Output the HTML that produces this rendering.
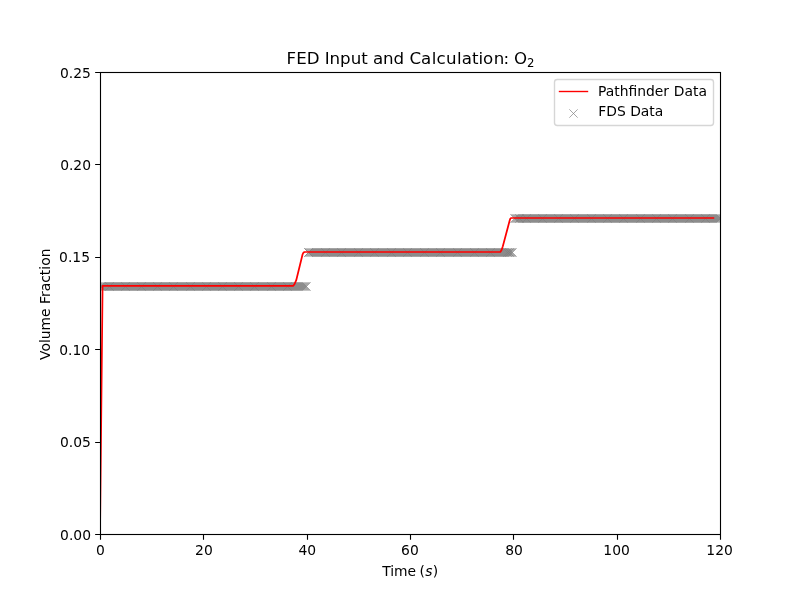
<!DOCTYPE html>
<html lang="en">
<head>
<meta charset="utf-8">
<title>FED Input and Calculation: O2</title>
<style>
html,body{margin:0;padding:0;background:#fff;}
body{width:800px;height:600px;overflow:hidden;}
svg{display:block;}
text{font-family:"DejaVu Sans","Liberation Sans",sans-serif;fill:#000;}
.t10{font-size:13.889px;}
.mk path{fill:none;stroke:#808080;stroke-opacity:1;stroke-width:0.694;}
</style>
</head>
<body>
<svg width="800" height="600" viewBox="0 0 800 600">
<rect x="0" y="0" width="800" height="600" fill="#ffffff"/>
<clipPath id="axclip"><rect x="100" y="72" width="620" height="462"/></clipPath>
<g class="mk" clip-path="url(#axclip)">
<path d="M96.333 290.667l8.333 -8.333m-8.333 0l8.333 8.333"/><path d="M97.333 290.667l8.333 -8.333m-8.333 0l8.333 8.333"/><path d="M98.333 290.667l8.333 -8.333m-8.333 0l8.333 8.333"/><path d="M99.333 290.667l8.333 -8.333m-8.333 0l8.333 8.333"/><path d="M100.333 290.667l8.333 -8.333m-8.333 0l8.333 8.333"/><path d="M101.333 290.667l8.333 -8.333m-8.333 0l8.333 8.333"/>
<path d="M102.333 290.667l8.333 -8.333m-8.333 0l8.333 8.333"/><path d="M103.333 290.667l8.333 -8.333m-8.333 0l8.333 8.333"/><path d="M104.333 290.667l8.333 -8.333m-8.333 0l8.333 8.333"/><path d="M105.333 290.667l8.333 -8.333m-8.333 0l8.333 8.333"/><path d="M106.333 290.667l8.333 -8.333m-8.333 0l8.333 8.333"/><path d="M107.333 290.667l8.333 -8.333m-8.333 0l8.333 8.333"/>
<path d="M108.333 290.667l8.333 -8.333m-8.333 0l8.333 8.333"/><path d="M109.333 290.667l8.333 -8.333m-8.333 0l8.333 8.333"/><path d="M110.333 290.667l8.333 -8.333m-8.333 0l8.333 8.333"/><path d="M111.333 290.667l8.333 -8.333m-8.333 0l8.333 8.333"/><path d="M112.333 290.667l8.333 -8.333m-8.333 0l8.333 8.333"/><path d="M113.333 290.667l8.333 -8.333m-8.333 0l8.333 8.333"/>
<path d="M114.333 290.667l8.333 -8.333m-8.333 0l8.333 8.333"/><path d="M115.333 290.667l8.333 -8.333m-8.333 0l8.333 8.333"/><path d="M116.333 290.667l8.333 -8.333m-8.333 0l8.333 8.333"/><path d="M117.333 290.667l8.333 -8.333m-8.333 0l8.333 8.333"/><path d="M118.333 290.667l8.333 -8.333m-8.333 0l8.333 8.333"/><path d="M119.333 290.667l8.333 -8.333m-8.333 0l8.333 8.333"/>
<path d="M120.333 290.667l8.333 -8.333m-8.333 0l8.333 8.333"/><path d="M121.333 290.667l8.333 -8.333m-8.333 0l8.333 8.333"/><path d="M122.333 290.667l8.333 -8.333m-8.333 0l8.333 8.333"/><path d="M123.333 290.667l8.333 -8.333m-8.333 0l8.333 8.333"/><path d="M124.333 290.667l8.333 -8.333m-8.333 0l8.333 8.333"/><path d="M125.333 290.667l8.333 -8.333m-8.333 0l8.333 8.333"/>
<path d="M126.333 290.667l8.333 -8.333m-8.333 0l8.333 8.333"/><path d="M127.333 290.667l8.333 -8.333m-8.333 0l8.333 8.333"/><path d="M128.333 290.667l8.333 -8.333m-8.333 0l8.333 8.333"/><path d="M129.333 290.667l8.333 -8.333m-8.333 0l8.333 8.333"/><path d="M130.333 290.667l8.333 -8.333m-8.333 0l8.333 8.333"/><path d="M131.333 290.667l8.333 -8.333m-8.333 0l8.333 8.333"/>
<path d="M132.333 290.667l8.333 -8.333m-8.333 0l8.333 8.333"/><path d="M133.333 290.667l8.333 -8.333m-8.333 0l8.333 8.333"/><path d="M134.333 290.667l8.333 -8.333m-8.333 0l8.333 8.333"/><path d="M135.333 290.667l8.333 -8.333m-8.333 0l8.333 8.333"/><path d="M136.333 290.667l8.333 -8.333m-8.333 0l8.333 8.333"/><path d="M137.333 290.667l8.333 -8.333m-8.333 0l8.333 8.333"/>
<path d="M138.333 290.667l8.333 -8.333m-8.333 0l8.333 8.333"/><path d="M139.333 290.667l8.333 -8.333m-8.333 0l8.333 8.333"/><path d="M140.333 290.667l8.333 -8.333m-8.333 0l8.333 8.333"/><path d="M141.333 290.667l8.333 -8.333m-8.333 0l8.333 8.333"/><path d="M142.333 290.667l8.333 -8.333m-8.333 0l8.333 8.333"/><path d="M143.333 290.667l8.333 -8.333m-8.333 0l8.333 8.333"/>
<path d="M144.333 290.667l8.333 -8.333m-8.333 0l8.333 8.333"/><path d="M145.333 290.667l8.333 -8.333m-8.333 0l8.333 8.333"/><path d="M146.333 290.667l8.333 -8.333m-8.333 0l8.333 8.333"/><path d="M147.333 290.667l8.333 -8.333m-8.333 0l8.333 8.333"/><path d="M148.333 290.667l8.333 -8.333m-8.333 0l8.333 8.333"/><path d="M149.333 290.667l8.333 -8.333m-8.333 0l8.333 8.333"/>
<path d="M150.333 290.667l8.333 -8.333m-8.333 0l8.333 8.333"/><path d="M151.333 290.667l8.333 -8.333m-8.333 0l8.333 8.333"/><path d="M152.333 290.667l8.333 -8.333m-8.333 0l8.333 8.333"/><path d="M153.333 290.667l8.333 -8.333m-8.333 0l8.333 8.333"/><path d="M154.333 290.667l8.333 -8.333m-8.333 0l8.333 8.333"/><path d="M155.333 290.667l8.333 -8.333m-8.333 0l8.333 8.333"/>
<path d="M156.333 290.667l8.333 -8.333m-8.333 0l8.333 8.333"/><path d="M157.333 290.667l8.333 -8.333m-8.333 0l8.333 8.333"/><path d="M158.333 290.667l8.333 -8.333m-8.333 0l8.333 8.333"/><path d="M159.333 290.667l8.333 -8.333m-8.333 0l8.333 8.333"/><path d="M160.333 290.667l8.333 -8.333m-8.333 0l8.333 8.333"/><path d="M161.333 290.667l8.333 -8.333m-8.333 0l8.333 8.333"/>
<path d="M162.333 290.667l8.333 -8.333m-8.333 0l8.333 8.333"/><path d="M163.333 290.667l8.333 -8.333m-8.333 0l8.333 8.333"/><path d="M164.333 290.667l8.333 -8.333m-8.333 0l8.333 8.333"/><path d="M165.333 290.667l8.333 -8.333m-8.333 0l8.333 8.333"/><path d="M166.333 290.667l8.333 -8.333m-8.333 0l8.333 8.333"/><path d="M167.333 290.667l8.333 -8.333m-8.333 0l8.333 8.333"/>
<path d="M168.333 290.667l8.333 -8.333m-8.333 0l8.333 8.333"/><path d="M169.333 290.667l8.333 -8.333m-8.333 0l8.333 8.333"/><path d="M170.333 290.667l8.333 -8.333m-8.333 0l8.333 8.333"/><path d="M171.333 290.667l8.333 -8.333m-8.333 0l8.333 8.333"/><path d="M172.333 290.667l8.333 -8.333m-8.333 0l8.333 8.333"/><path d="M173.333 290.667l8.333 -8.333m-8.333 0l8.333 8.333"/>
<path d="M174.333 290.667l8.333 -8.333m-8.333 0l8.333 8.333"/><path d="M175.333 290.667l8.333 -8.333m-8.333 0l8.333 8.333"/><path d="M176.333 290.667l8.333 -8.333m-8.333 0l8.333 8.333"/><path d="M177.333 290.667l8.333 -8.333m-8.333 0l8.333 8.333"/><path d="M178.333 290.667l8.333 -8.333m-8.333 0l8.333 8.333"/><path d="M179.333 290.667l8.333 -8.333m-8.333 0l8.333 8.333"/>
<path d="M180.333 290.667l8.333 -8.333m-8.333 0l8.333 8.333"/><path d="M181.333 290.667l8.333 -8.333m-8.333 0l8.333 8.333"/><path d="M182.333 290.667l8.333 -8.333m-8.333 0l8.333 8.333"/><path d="M183.333 290.667l8.333 -8.333m-8.333 0l8.333 8.333"/><path d="M184.333 290.667l8.333 -8.333m-8.333 0l8.333 8.333"/><path d="M185.333 290.667l8.333 -8.333m-8.333 0l8.333 8.333"/>
<path d="M186.333 290.667l8.333 -8.333m-8.333 0l8.333 8.333"/><path d="M187.333 290.667l8.333 -8.333m-8.333 0l8.333 8.333"/><path d="M188.333 290.667l8.333 -8.333m-8.333 0l8.333 8.333"/><path d="M189.333 290.667l8.333 -8.333m-8.333 0l8.333 8.333"/><path d="M190.333 290.667l8.333 -8.333m-8.333 0l8.333 8.333"/><path d="M191.333 290.667l8.333 -8.333m-8.333 0l8.333 8.333"/>
<path d="M192.333 290.667l8.333 -8.333m-8.333 0l8.333 8.333"/><path d="M193.333 290.667l8.333 -8.333m-8.333 0l8.333 8.333"/><path d="M194.333 290.667l8.333 -8.333m-8.333 0l8.333 8.333"/><path d="M195.333 290.667l8.333 -8.333m-8.333 0l8.333 8.333"/><path d="M196.333 290.667l8.333 -8.333m-8.333 0l8.333 8.333"/><path d="M197.333 290.667l8.333 -8.333m-8.333 0l8.333 8.333"/>
<path d="M198.333 290.667l8.333 -8.333m-8.333 0l8.333 8.333"/><path d="M199.333 290.667l8.333 -8.333m-8.333 0l8.333 8.333"/><path d="M200.333 290.667l8.333 -8.333m-8.333 0l8.333 8.333"/><path d="M201.333 290.667l8.333 -8.333m-8.333 0l8.333 8.333"/><path d="M202.333 290.667l8.333 -8.333m-8.333 0l8.333 8.333"/><path d="M203.333 290.667l8.333 -8.333m-8.333 0l8.333 8.333"/>
<path d="M204.333 290.667l8.333 -8.333m-8.333 0l8.333 8.333"/><path d="M205.333 290.667l8.333 -8.333m-8.333 0l8.333 8.333"/><path d="M206.333 290.667l8.333 -8.333m-8.333 0l8.333 8.333"/><path d="M207.333 290.667l8.333 -8.333m-8.333 0l8.333 8.333"/><path d="M208.333 290.667l8.333 -8.333m-8.333 0l8.333 8.333"/><path d="M209.333 290.667l8.333 -8.333m-8.333 0l8.333 8.333"/>
<path d="M210.333 290.667l8.333 -8.333m-8.333 0l8.333 8.333"/><path d="M211.333 290.667l8.333 -8.333m-8.333 0l8.333 8.333"/><path d="M212.333 290.667l8.333 -8.333m-8.333 0l8.333 8.333"/><path d="M213.333 290.667l8.333 -8.333m-8.333 0l8.333 8.333"/><path d="M214.333 290.667l8.333 -8.333m-8.333 0l8.333 8.333"/><path d="M215.333 290.667l8.333 -8.333m-8.333 0l8.333 8.333"/>
<path d="M216.333 290.667l8.333 -8.333m-8.333 0l8.333 8.333"/><path d="M217.333 290.667l8.333 -8.333m-8.333 0l8.333 8.333"/><path d="M218.333 290.667l8.333 -8.333m-8.333 0l8.333 8.333"/><path d="M219.333 290.667l8.333 -8.333m-8.333 0l8.333 8.333"/><path d="M220.333 290.667l8.333 -8.333m-8.333 0l8.333 8.333"/><path d="M221.333 290.667l8.333 -8.333m-8.333 0l8.333 8.333"/>
<path d="M222.333 290.667l8.333 -8.333m-8.333 0l8.333 8.333"/><path d="M223.333 290.667l8.333 -8.333m-8.333 0l8.333 8.333"/><path d="M224.333 290.667l8.333 -8.333m-8.333 0l8.333 8.333"/><path d="M225.333 290.667l8.333 -8.333m-8.333 0l8.333 8.333"/><path d="M226.333 290.667l8.333 -8.333m-8.333 0l8.333 8.333"/><path d="M227.333 290.667l8.333 -8.333m-8.333 0l8.333 8.333"/>
<path d="M228.333 290.667l8.333 -8.333m-8.333 0l8.333 8.333"/><path d="M229.333 290.667l8.333 -8.333m-8.333 0l8.333 8.333"/><path d="M230.333 290.667l8.333 -8.333m-8.333 0l8.333 8.333"/><path d="M231.333 290.667l8.333 -8.333m-8.333 0l8.333 8.333"/><path d="M232.333 290.667l8.333 -8.333m-8.333 0l8.333 8.333"/><path d="M233.333 290.667l8.333 -8.333m-8.333 0l8.333 8.333"/>
<path d="M234.333 290.667l8.333 -8.333m-8.333 0l8.333 8.333"/><path d="M235.333 290.667l8.333 -8.333m-8.333 0l8.333 8.333"/><path d="M236.333 290.667l8.333 -8.333m-8.333 0l8.333 8.333"/><path d="M237.333 290.667l8.333 -8.333m-8.333 0l8.333 8.333"/><path d="M238.333 290.667l8.333 -8.333m-8.333 0l8.333 8.333"/><path d="M239.333 290.667l8.333 -8.333m-8.333 0l8.333 8.333"/>
<path d="M240.333 290.667l8.333 -8.333m-8.333 0l8.333 8.333"/><path d="M241.333 290.667l8.333 -8.333m-8.333 0l8.333 8.333"/><path d="M242.333 290.667l8.333 -8.333m-8.333 0l8.333 8.333"/><path d="M243.333 290.667l8.333 -8.333m-8.333 0l8.333 8.333"/><path d="M244.333 290.667l8.333 -8.333m-8.333 0l8.333 8.333"/><path d="M245.333 290.667l8.333 -8.333m-8.333 0l8.333 8.333"/>
<path d="M246.333 290.667l8.333 -8.333m-8.333 0l8.333 8.333"/><path d="M247.333 290.667l8.333 -8.333m-8.333 0l8.333 8.333"/><path d="M248.333 290.667l8.333 -8.333m-8.333 0l8.333 8.333"/><path d="M249.333 290.667l8.333 -8.333m-8.333 0l8.333 8.333"/><path d="M250.333 290.667l8.333 -8.333m-8.333 0l8.333 8.333"/><path d="M251.333 290.667l8.333 -8.333m-8.333 0l8.333 8.333"/>
<path d="M252.333 290.667l8.333 -8.333m-8.333 0l8.333 8.333"/><path d="M253.333 290.667l8.333 -8.333m-8.333 0l8.333 8.333"/><path d="M254.333 290.667l8.333 -8.333m-8.333 0l8.333 8.333"/><path d="M255.333 290.667l8.333 -8.333m-8.333 0l8.333 8.333"/><path d="M256.333 290.667l8.333 -8.333m-8.333 0l8.333 8.333"/><path d="M257.333 290.667l8.333 -8.333m-8.333 0l8.333 8.333"/>
<path d="M258.333 290.667l8.333 -8.333m-8.333 0l8.333 8.333"/><path d="M259.333 290.667l8.333 -8.333m-8.333 0l8.333 8.333"/><path d="M260.333 290.667l8.333 -8.333m-8.333 0l8.333 8.333"/><path d="M261.333 290.667l8.333 -8.333m-8.333 0l8.333 8.333"/><path d="M262.333 290.667l8.333 -8.333m-8.333 0l8.333 8.333"/><path d="M263.333 290.667l8.333 -8.333m-8.333 0l8.333 8.333"/>
<path d="M264.333 290.667l8.333 -8.333m-8.333 0l8.333 8.333"/><path d="M265.333 290.667l8.333 -8.333m-8.333 0l8.333 8.333"/><path d="M266.333 290.667l8.333 -8.333m-8.333 0l8.333 8.333"/><path d="M267.333 290.667l8.333 -8.333m-8.333 0l8.333 8.333"/><path d="M268.333 290.667l8.333 -8.333m-8.333 0l8.333 8.333"/><path d="M269.333 290.667l8.333 -8.333m-8.333 0l8.333 8.333"/>
<path d="M270.333 290.667l8.333 -8.333m-8.333 0l8.333 8.333"/><path d="M271.333 290.667l8.333 -8.333m-8.333 0l8.333 8.333"/><path d="M272.333 290.667l8.333 -8.333m-8.333 0l8.333 8.333"/><path d="M273.333 290.667l8.333 -8.333m-8.333 0l8.333 8.333"/><path d="M274.333 290.667l8.333 -8.333m-8.333 0l8.333 8.333"/><path d="M275.333 290.667l8.333 -8.333m-8.333 0l8.333 8.333"/>
<path d="M276.333 290.667l8.333 -8.333m-8.333 0l8.333 8.333"/><path d="M277.333 290.667l8.333 -8.333m-8.333 0l8.333 8.333"/><path d="M278.333 290.667l8.333 -8.333m-8.333 0l8.333 8.333"/><path d="M279.333 290.667l8.333 -8.333m-8.333 0l8.333 8.333"/><path d="M280.333 290.667l8.333 -8.333m-8.333 0l8.333 8.333"/><path d="M281.333 290.667l8.333 -8.333m-8.333 0l8.333 8.333"/>
<path d="M282.333 290.667l8.333 -8.333m-8.333 0l8.333 8.333"/><path d="M283.333 290.667l8.333 -8.333m-8.333 0l8.333 8.333"/><path d="M284.333 290.667l8.333 -8.333m-8.333 0l8.333 8.333"/><path d="M285.333 290.667l8.333 -8.333m-8.333 0l8.333 8.333"/><path d="M286.333 290.667l8.333 -8.333m-8.333 0l8.333 8.333"/><path d="M287.333 290.667l8.333 -8.333m-8.333 0l8.333 8.333"/>
<path d="M288.333 290.667l8.333 -8.333m-8.333 0l8.333 8.333"/><path d="M289.333 290.667l8.333 -8.333m-8.333 0l8.333 8.333"/><path d="M290.333 290.667l8.333 -8.333m-8.333 0l8.333 8.333"/><path d="M291.333 290.667l8.333 -8.333m-8.333 0l8.333 8.333"/><path d="M292.333 290.667l8.333 -8.333m-8.333 0l8.333 8.333"/><path d="M293.333 290.667l8.333 -8.333m-8.333 0l8.333 8.333"/>
<path d="M294.333 290.667l8.333 -8.333m-8.333 0l8.333 8.333"/><path d="M295.333 290.667l8.333 -8.333m-8.333 0l8.333 8.333"/><path d="M296.333 290.667l8.333 -8.333m-8.333 0l8.333 8.333"/><path d="M297.333 290.667l8.333 -8.333m-8.333 0l8.333 8.333"/><path d="M298.333 290.667l8.333 -8.333m-8.333 0l8.333 8.333"/><path d="M299.333 290.667l8.333 -8.333m-8.333 0l8.333 8.333"/>
<path d="M300.333 290.667l8.333 -8.333m-8.333 0l8.333 8.333"/><path d="M301.333 290.667l8.333 -8.333m-8.333 0l8.333 8.333"/><path d="M302.333 290.667l8.333 -8.333m-8.333 0l8.333 8.333"/><path d="M105.333 290.667l8.333 -8.333m-8.333 0l8.333 8.333"/><path d="M121.333 290.667l8.333 -8.333m-8.333 0l8.333 8.333"/><path d="M137.333 290.667l8.333 -8.333m-8.333 0l8.333 8.333"/>
<path d="M153.333 290.667l8.333 -8.333m-8.333 0l8.333 8.333"/><path d="M169.333 290.667l8.333 -8.333m-8.333 0l8.333 8.333"/><path d="M186.333 290.667l8.333 -8.333m-8.333 0l8.333 8.333"/><path d="M202.333 290.667l8.333 -8.333m-8.333 0l8.333 8.333"/><path d="M218.333 290.667l8.333 -8.333m-8.333 0l8.333 8.333"/><path d="M234.333 290.667l8.333 -8.333m-8.333 0l8.333 8.333"/>
<path d="M250.333 290.667l8.333 -8.333m-8.333 0l8.333 8.333"/><path d="M267.333 290.667l8.333 -8.333m-8.333 0l8.333 8.333"/><path d="M283.333 290.667l8.333 -8.333m-8.333 0l8.333 8.333"/><path d="M304.333 256.667l8.333 -8.333m-8.333 0l8.333 8.333"/><path d="M305.333 256.667l8.333 -8.333m-8.333 0l8.333 8.333"/><path d="M306.333 256.667l8.333 -8.333m-8.333 0l8.333 8.333"/>
<path d="M307.333 256.667l8.333 -8.333m-8.333 0l8.333 8.333"/><path d="M308.333 256.667l8.333 -8.333m-8.333 0l8.333 8.333"/><path d="M309.333 256.667l8.333 -8.333m-8.333 0l8.333 8.333"/><path d="M310.333 256.667l8.333 -8.333m-8.333 0l8.333 8.333"/><path d="M311.333 256.667l8.333 -8.333m-8.333 0l8.333 8.333"/><path d="M312.333 256.667l8.333 -8.333m-8.333 0l8.333 8.333"/>
<path d="M313.333 256.667l8.333 -8.333m-8.333 0l8.333 8.333"/><path d="M314.333 256.667l8.333 -8.333m-8.333 0l8.333 8.333"/><path d="M315.333 256.667l8.333 -8.333m-8.333 0l8.333 8.333"/><path d="M316.333 256.667l8.333 -8.333m-8.333 0l8.333 8.333"/><path d="M317.333 256.667l8.333 -8.333m-8.333 0l8.333 8.333"/><path d="M318.333 256.667l8.333 -8.333m-8.333 0l8.333 8.333"/>
<path d="M319.333 256.667l8.333 -8.333m-8.333 0l8.333 8.333"/><path d="M320.333 256.667l8.333 -8.333m-8.333 0l8.333 8.333"/><path d="M321.333 256.667l8.333 -8.333m-8.333 0l8.333 8.333"/><path d="M322.333 256.667l8.333 -8.333m-8.333 0l8.333 8.333"/><path d="M323.333 256.667l8.333 -8.333m-8.333 0l8.333 8.333"/><path d="M324.333 256.667l8.333 -8.333m-8.333 0l8.333 8.333"/>
<path d="M325.333 256.667l8.333 -8.333m-8.333 0l8.333 8.333"/><path d="M326.333 256.667l8.333 -8.333m-8.333 0l8.333 8.333"/><path d="M327.333 256.667l8.333 -8.333m-8.333 0l8.333 8.333"/><path d="M328.333 256.667l8.333 -8.333m-8.333 0l8.333 8.333"/><path d="M329.333 256.667l8.333 -8.333m-8.333 0l8.333 8.333"/><path d="M330.333 256.667l8.333 -8.333m-8.333 0l8.333 8.333"/>
<path d="M331.333 256.667l8.333 -8.333m-8.333 0l8.333 8.333"/><path d="M332.333 256.667l8.333 -8.333m-8.333 0l8.333 8.333"/><path d="M333.333 256.667l8.333 -8.333m-8.333 0l8.333 8.333"/><path d="M334.333 256.667l8.333 -8.333m-8.333 0l8.333 8.333"/><path d="M335.333 256.667l8.333 -8.333m-8.333 0l8.333 8.333"/><path d="M336.333 256.667l8.333 -8.333m-8.333 0l8.333 8.333"/>
<path d="M337.333 256.667l8.333 -8.333m-8.333 0l8.333 8.333"/><path d="M338.333 256.667l8.333 -8.333m-8.333 0l8.333 8.333"/><path d="M339.333 256.667l8.333 -8.333m-8.333 0l8.333 8.333"/><path d="M340.333 256.667l8.333 -8.333m-8.333 0l8.333 8.333"/><path d="M341.333 256.667l8.333 -8.333m-8.333 0l8.333 8.333"/><path d="M342.333 256.667l8.333 -8.333m-8.333 0l8.333 8.333"/>
<path d="M343.333 256.667l8.333 -8.333m-8.333 0l8.333 8.333"/><path d="M344.333 256.667l8.333 -8.333m-8.333 0l8.333 8.333"/><path d="M345.333 256.667l8.333 -8.333m-8.333 0l8.333 8.333"/><path d="M346.333 256.667l8.333 -8.333m-8.333 0l8.333 8.333"/><path d="M347.333 256.667l8.333 -8.333m-8.333 0l8.333 8.333"/><path d="M348.333 256.667l8.333 -8.333m-8.333 0l8.333 8.333"/>
<path d="M349.333 256.667l8.333 -8.333m-8.333 0l8.333 8.333"/><path d="M350.333 256.667l8.333 -8.333m-8.333 0l8.333 8.333"/><path d="M351.333 256.667l8.333 -8.333m-8.333 0l8.333 8.333"/><path d="M352.333 256.667l8.333 -8.333m-8.333 0l8.333 8.333"/><path d="M353.333 256.667l8.333 -8.333m-8.333 0l8.333 8.333"/><path d="M354.333 256.667l8.333 -8.333m-8.333 0l8.333 8.333"/>
<path d="M355.333 256.667l8.333 -8.333m-8.333 0l8.333 8.333"/><path d="M356.333 256.667l8.333 -8.333m-8.333 0l8.333 8.333"/><path d="M357.333 256.667l8.333 -8.333m-8.333 0l8.333 8.333"/><path d="M358.333 256.667l8.333 -8.333m-8.333 0l8.333 8.333"/><path d="M359.333 256.667l8.333 -8.333m-8.333 0l8.333 8.333"/><path d="M360.333 256.667l8.333 -8.333m-8.333 0l8.333 8.333"/>
<path d="M361.333 256.667l8.333 -8.333m-8.333 0l8.333 8.333"/><path d="M362.333 256.667l8.333 -8.333m-8.333 0l8.333 8.333"/><path d="M363.333 256.667l8.333 -8.333m-8.333 0l8.333 8.333"/><path d="M364.333 256.667l8.333 -8.333m-8.333 0l8.333 8.333"/><path d="M365.333 256.667l8.333 -8.333m-8.333 0l8.333 8.333"/><path d="M366.333 256.667l8.333 -8.333m-8.333 0l8.333 8.333"/>
<path d="M367.333 256.667l8.333 -8.333m-8.333 0l8.333 8.333"/><path d="M368.333 256.667l8.333 -8.333m-8.333 0l8.333 8.333"/><path d="M369.333 256.667l8.333 -8.333m-8.333 0l8.333 8.333"/><path d="M370.333 256.667l8.333 -8.333m-8.333 0l8.333 8.333"/><path d="M371.333 256.667l8.333 -8.333m-8.333 0l8.333 8.333"/><path d="M372.333 256.667l8.333 -8.333m-8.333 0l8.333 8.333"/>
<path d="M373.333 256.667l8.333 -8.333m-8.333 0l8.333 8.333"/><path d="M374.333 256.667l8.333 -8.333m-8.333 0l8.333 8.333"/><path d="M375.333 256.667l8.333 -8.333m-8.333 0l8.333 8.333"/><path d="M376.333 256.667l8.333 -8.333m-8.333 0l8.333 8.333"/><path d="M377.333 256.667l8.333 -8.333m-8.333 0l8.333 8.333"/><path d="M378.333 256.667l8.333 -8.333m-8.333 0l8.333 8.333"/>
<path d="M379.333 256.667l8.333 -8.333m-8.333 0l8.333 8.333"/><path d="M380.333 256.667l8.333 -8.333m-8.333 0l8.333 8.333"/><path d="M381.333 256.667l8.333 -8.333m-8.333 0l8.333 8.333"/><path d="M382.333 256.667l8.333 -8.333m-8.333 0l8.333 8.333"/><path d="M383.333 256.667l8.333 -8.333m-8.333 0l8.333 8.333"/><path d="M384.333 256.667l8.333 -8.333m-8.333 0l8.333 8.333"/>
<path d="M385.333 256.667l8.333 -8.333m-8.333 0l8.333 8.333"/><path d="M386.333 256.667l8.333 -8.333m-8.333 0l8.333 8.333"/><path d="M387.333 256.667l8.333 -8.333m-8.333 0l8.333 8.333"/><path d="M388.333 256.667l8.333 -8.333m-8.333 0l8.333 8.333"/><path d="M389.333 256.667l8.333 -8.333m-8.333 0l8.333 8.333"/><path d="M390.333 256.667l8.333 -8.333m-8.333 0l8.333 8.333"/>
<path d="M391.333 256.667l8.333 -8.333m-8.333 0l8.333 8.333"/><path d="M392.333 256.667l8.333 -8.333m-8.333 0l8.333 8.333"/><path d="M393.333 256.667l8.333 -8.333m-8.333 0l8.333 8.333"/><path d="M394.333 256.667l8.333 -8.333m-8.333 0l8.333 8.333"/><path d="M395.333 256.667l8.333 -8.333m-8.333 0l8.333 8.333"/><path d="M396.333 256.667l8.333 -8.333m-8.333 0l8.333 8.333"/>
<path d="M397.333 256.667l8.333 -8.333m-8.333 0l8.333 8.333"/><path d="M398.333 256.667l8.333 -8.333m-8.333 0l8.333 8.333"/><path d="M399.333 256.667l8.333 -8.333m-8.333 0l8.333 8.333"/><path d="M400.333 256.667l8.333 -8.333m-8.333 0l8.333 8.333"/><path d="M401.333 256.667l8.333 -8.333m-8.333 0l8.333 8.333"/><path d="M402.333 256.667l8.333 -8.333m-8.333 0l8.333 8.333"/>
<path d="M403.333 256.667l8.333 -8.333m-8.333 0l8.333 8.333"/><path d="M404.333 256.667l8.333 -8.333m-8.333 0l8.333 8.333"/><path d="M405.333 256.667l8.333 -8.333m-8.333 0l8.333 8.333"/><path d="M406.333 256.667l8.333 -8.333m-8.333 0l8.333 8.333"/><path d="M407.333 256.667l8.333 -8.333m-8.333 0l8.333 8.333"/><path d="M408.333 256.667l8.333 -8.333m-8.333 0l8.333 8.333"/>
<path d="M409.333 256.667l8.333 -8.333m-8.333 0l8.333 8.333"/><path d="M410.333 256.667l8.333 -8.333m-8.333 0l8.333 8.333"/><path d="M411.333 256.667l8.333 -8.333m-8.333 0l8.333 8.333"/><path d="M412.333 256.667l8.333 -8.333m-8.333 0l8.333 8.333"/><path d="M413.333 256.667l8.333 -8.333m-8.333 0l8.333 8.333"/><path d="M414.333 256.667l8.333 -8.333m-8.333 0l8.333 8.333"/>
<path d="M415.333 256.667l8.333 -8.333m-8.333 0l8.333 8.333"/><path d="M416.333 256.667l8.333 -8.333m-8.333 0l8.333 8.333"/><path d="M417.333 256.667l8.333 -8.333m-8.333 0l8.333 8.333"/><path d="M418.333 256.667l8.333 -8.333m-8.333 0l8.333 8.333"/><path d="M419.333 256.667l8.333 -8.333m-8.333 0l8.333 8.333"/><path d="M420.333 256.667l8.333 -8.333m-8.333 0l8.333 8.333"/>
<path d="M421.333 256.667l8.333 -8.333m-8.333 0l8.333 8.333"/><path d="M422.333 256.667l8.333 -8.333m-8.333 0l8.333 8.333"/><path d="M423.333 256.667l8.333 -8.333m-8.333 0l8.333 8.333"/><path d="M424.333 256.667l8.333 -8.333m-8.333 0l8.333 8.333"/><path d="M425.333 256.667l8.333 -8.333m-8.333 0l8.333 8.333"/><path d="M426.333 256.667l8.333 -8.333m-8.333 0l8.333 8.333"/>
<path d="M427.333 256.667l8.333 -8.333m-8.333 0l8.333 8.333"/><path d="M428.333 256.667l8.333 -8.333m-8.333 0l8.333 8.333"/><path d="M429.333 256.667l8.333 -8.333m-8.333 0l8.333 8.333"/><path d="M430.333 256.667l8.333 -8.333m-8.333 0l8.333 8.333"/><path d="M431.333 256.667l8.333 -8.333m-8.333 0l8.333 8.333"/><path d="M432.333 256.667l8.333 -8.333m-8.333 0l8.333 8.333"/>
<path d="M433.333 256.667l8.333 -8.333m-8.333 0l8.333 8.333"/><path d="M434.333 256.667l8.333 -8.333m-8.333 0l8.333 8.333"/><path d="M435.333 256.667l8.333 -8.333m-8.333 0l8.333 8.333"/><path d="M436.333 256.667l8.333 -8.333m-8.333 0l8.333 8.333"/><path d="M437.333 256.667l8.333 -8.333m-8.333 0l8.333 8.333"/><path d="M438.333 256.667l8.333 -8.333m-8.333 0l8.333 8.333"/>
<path d="M439.333 256.667l8.333 -8.333m-8.333 0l8.333 8.333"/><path d="M440.333 256.667l8.333 -8.333m-8.333 0l8.333 8.333"/><path d="M441.333 256.667l8.333 -8.333m-8.333 0l8.333 8.333"/><path d="M442.333 256.667l8.333 -8.333m-8.333 0l8.333 8.333"/><path d="M443.333 256.667l8.333 -8.333m-8.333 0l8.333 8.333"/><path d="M444.333 256.667l8.333 -8.333m-8.333 0l8.333 8.333"/>
<path d="M445.333 256.667l8.333 -8.333m-8.333 0l8.333 8.333"/><path d="M446.333 256.667l8.333 -8.333m-8.333 0l8.333 8.333"/><path d="M447.333 256.667l8.333 -8.333m-8.333 0l8.333 8.333"/><path d="M448.333 256.667l8.333 -8.333m-8.333 0l8.333 8.333"/><path d="M449.333 256.667l8.333 -8.333m-8.333 0l8.333 8.333"/><path d="M450.333 256.667l8.333 -8.333m-8.333 0l8.333 8.333"/>
<path d="M451.333 256.667l8.333 -8.333m-8.333 0l8.333 8.333"/><path d="M452.333 256.667l8.333 -8.333m-8.333 0l8.333 8.333"/><path d="M453.333 256.667l8.333 -8.333m-8.333 0l8.333 8.333"/><path d="M454.333 256.667l8.333 -8.333m-8.333 0l8.333 8.333"/><path d="M455.333 256.667l8.333 -8.333m-8.333 0l8.333 8.333"/><path d="M456.333 256.667l8.333 -8.333m-8.333 0l8.333 8.333"/>
<path d="M457.333 256.667l8.333 -8.333m-8.333 0l8.333 8.333"/><path d="M458.333 256.667l8.333 -8.333m-8.333 0l8.333 8.333"/><path d="M459.333 256.667l8.333 -8.333m-8.333 0l8.333 8.333"/><path d="M460.333 256.667l8.333 -8.333m-8.333 0l8.333 8.333"/><path d="M461.333 256.667l8.333 -8.333m-8.333 0l8.333 8.333"/><path d="M462.333 256.667l8.333 -8.333m-8.333 0l8.333 8.333"/>
<path d="M463.333 256.667l8.333 -8.333m-8.333 0l8.333 8.333"/><path d="M464.333 256.667l8.333 -8.333m-8.333 0l8.333 8.333"/><path d="M465.333 256.667l8.333 -8.333m-8.333 0l8.333 8.333"/><path d="M466.333 256.667l8.333 -8.333m-8.333 0l8.333 8.333"/><path d="M467.333 256.667l8.333 -8.333m-8.333 0l8.333 8.333"/><path d="M468.333 256.667l8.333 -8.333m-8.333 0l8.333 8.333"/>
<path d="M469.333 256.667l8.333 -8.333m-8.333 0l8.333 8.333"/><path d="M470.333 256.667l8.333 -8.333m-8.333 0l8.333 8.333"/><path d="M471.333 256.667l8.333 -8.333m-8.333 0l8.333 8.333"/><path d="M472.333 256.667l8.333 -8.333m-8.333 0l8.333 8.333"/><path d="M473.333 256.667l8.333 -8.333m-8.333 0l8.333 8.333"/><path d="M474.333 256.667l8.333 -8.333m-8.333 0l8.333 8.333"/>
<path d="M475.333 256.667l8.333 -8.333m-8.333 0l8.333 8.333"/><path d="M476.333 256.667l8.333 -8.333m-8.333 0l8.333 8.333"/><path d="M477.333 256.667l8.333 -8.333m-8.333 0l8.333 8.333"/><path d="M478.333 256.667l8.333 -8.333m-8.333 0l8.333 8.333"/><path d="M479.333 256.667l8.333 -8.333m-8.333 0l8.333 8.333"/><path d="M480.333 256.667l8.333 -8.333m-8.333 0l8.333 8.333"/>
<path d="M481.333 256.667l8.333 -8.333m-8.333 0l8.333 8.333"/><path d="M482.333 256.667l8.333 -8.333m-8.333 0l8.333 8.333"/><path d="M483.333 256.667l8.333 -8.333m-8.333 0l8.333 8.333"/><path d="M484.333 256.667l8.333 -8.333m-8.333 0l8.333 8.333"/><path d="M485.333 256.667l8.333 -8.333m-8.333 0l8.333 8.333"/><path d="M486.333 256.667l8.333 -8.333m-8.333 0l8.333 8.333"/>
<path d="M487.333 256.667l8.333 -8.333m-8.333 0l8.333 8.333"/><path d="M488.333 256.667l8.333 -8.333m-8.333 0l8.333 8.333"/><path d="M489.333 256.667l8.333 -8.333m-8.333 0l8.333 8.333"/><path d="M490.333 256.667l8.333 -8.333m-8.333 0l8.333 8.333"/><path d="M491.333 256.667l8.333 -8.333m-8.333 0l8.333 8.333"/><path d="M492.333 256.667l8.333 -8.333m-8.333 0l8.333 8.333"/>
<path d="M493.333 256.667l8.333 -8.333m-8.333 0l8.333 8.333"/><path d="M494.333 256.667l8.333 -8.333m-8.333 0l8.333 8.333"/><path d="M495.333 256.667l8.333 -8.333m-8.333 0l8.333 8.333"/><path d="M496.333 256.667l8.333 -8.333m-8.333 0l8.333 8.333"/><path d="M497.333 256.667l8.333 -8.333m-8.333 0l8.333 8.333"/><path d="M498.333 256.667l8.333 -8.333m-8.333 0l8.333 8.333"/>
<path d="M499.333 256.667l8.333 -8.333m-8.333 0l8.333 8.333"/><path d="M500.333 256.667l8.333 -8.333m-8.333 0l8.333 8.333"/><path d="M501.333 256.667l8.333 -8.333m-8.333 0l8.333 8.333"/><path d="M502.333 256.667l8.333 -8.333m-8.333 0l8.333 8.333"/><path d="M503.333 256.667l8.333 -8.333m-8.333 0l8.333 8.333"/><path d="M504.333 256.667l8.333 -8.333m-8.333 0l8.333 8.333"/>
<path d="M505.333 256.667l8.333 -8.333m-8.333 0l8.333 8.333"/><path d="M506.333 256.667l8.333 -8.333m-8.333 0l8.333 8.333"/><path d="M507.333 256.667l8.333 -8.333m-8.333 0l8.333 8.333"/><path d="M508.333 256.667l8.333 -8.333m-8.333 0l8.333 8.333"/><path d="M304.333 256.667l8.333 -8.333m-8.333 0l8.333 8.333"/><path d="M321.333 256.667l8.333 -8.333m-8.333 0l8.333 8.333"/>
<path d="M337.333 256.667l8.333 -8.333m-8.333 0l8.333 8.333"/><path d="M354.333 256.667l8.333 -8.333m-8.333 0l8.333 8.333"/><path d="M370.333 256.667l8.333 -8.333m-8.333 0l8.333 8.333"/><path d="M387.333 256.667l8.333 -8.333m-8.333 0l8.333 8.333"/><path d="M403.333 256.667l8.333 -8.333m-8.333 0l8.333 8.333"/><path d="M420.333 256.667l8.333 -8.333m-8.333 0l8.333 8.333"/>
<path d="M436.333 256.667l8.333 -8.333m-8.333 0l8.333 8.333"/><path d="M453.333 256.667l8.333 -8.333m-8.333 0l8.333 8.333"/><path d="M470.333 256.667l8.333 -8.333m-8.333 0l8.333 8.333"/><path d="M486.333 256.667l8.333 -8.333m-8.333 0l8.333 8.333"/><path d="M503.333 256.667l8.333 -8.333m-8.333 0l8.333 8.333"/><path d="M505.333 256.667l8.333 -8.333m-8.333 0l8.333 8.333"/>
<path d="M510.333 222.667l8.333 -8.333m-8.333 0l8.333 8.333"/><path d="M511.333 222.667l8.333 -8.333m-8.333 0l8.333 8.333"/><path d="M512.333 222.667l8.333 -8.333m-8.333 0l8.333 8.333"/><path d="M513.333 222.667l8.333 -8.333m-8.333 0l8.333 8.333"/><path d="M514.333 222.667l8.333 -8.333m-8.333 0l8.333 8.333"/><path d="M515.333 222.667l8.333 -8.333m-8.333 0l8.333 8.333"/>
<path d="M516.333 222.667l8.333 -8.333m-8.333 0l8.333 8.333"/><path d="M517.333 222.667l8.333 -8.333m-8.333 0l8.333 8.333"/><path d="M518.333 222.667l8.333 -8.333m-8.333 0l8.333 8.333"/><path d="M519.333 222.667l8.333 -8.333m-8.333 0l8.333 8.333"/><path d="M520.333 222.667l8.333 -8.333m-8.333 0l8.333 8.333"/><path d="M521.333 222.667l8.333 -8.333m-8.333 0l8.333 8.333"/>
<path d="M522.333 222.667l8.333 -8.333m-8.333 0l8.333 8.333"/><path d="M523.333 222.667l8.333 -8.333m-8.333 0l8.333 8.333"/><path d="M524.333 222.667l8.333 -8.333m-8.333 0l8.333 8.333"/><path d="M525.333 222.667l8.333 -8.333m-8.333 0l8.333 8.333"/><path d="M526.333 222.667l8.333 -8.333m-8.333 0l8.333 8.333"/><path d="M527.333 222.667l8.333 -8.333m-8.333 0l8.333 8.333"/>
<path d="M528.333 222.667l8.333 -8.333m-8.333 0l8.333 8.333"/><path d="M529.333 222.667l8.333 -8.333m-8.333 0l8.333 8.333"/><path d="M530.333 222.667l8.333 -8.333m-8.333 0l8.333 8.333"/><path d="M531.333 222.667l8.333 -8.333m-8.333 0l8.333 8.333"/><path d="M532.333 222.667l8.333 -8.333m-8.333 0l8.333 8.333"/><path d="M533.333 222.667l8.333 -8.333m-8.333 0l8.333 8.333"/>
<path d="M534.333 222.667l8.333 -8.333m-8.333 0l8.333 8.333"/><path d="M535.333 222.667l8.333 -8.333m-8.333 0l8.333 8.333"/><path d="M536.333 222.667l8.333 -8.333m-8.333 0l8.333 8.333"/><path d="M537.333 222.667l8.333 -8.333m-8.333 0l8.333 8.333"/><path d="M538.333 222.667l8.333 -8.333m-8.333 0l8.333 8.333"/><path d="M539.333 222.667l8.333 -8.333m-8.333 0l8.333 8.333"/>
<path d="M540.333 222.667l8.333 -8.333m-8.333 0l8.333 8.333"/><path d="M541.333 222.667l8.333 -8.333m-8.333 0l8.333 8.333"/><path d="M542.333 222.667l8.333 -8.333m-8.333 0l8.333 8.333"/><path d="M543.333 222.667l8.333 -8.333m-8.333 0l8.333 8.333"/><path d="M544.333 222.667l8.333 -8.333m-8.333 0l8.333 8.333"/><path d="M545.333 222.667l8.333 -8.333m-8.333 0l8.333 8.333"/>
<path d="M546.333 222.667l8.333 -8.333m-8.333 0l8.333 8.333"/><path d="M547.333 222.667l8.333 -8.333m-8.333 0l8.333 8.333"/><path d="M548.333 222.667l8.333 -8.333m-8.333 0l8.333 8.333"/><path d="M549.333 222.667l8.333 -8.333m-8.333 0l8.333 8.333"/><path d="M550.333 222.667l8.333 -8.333m-8.333 0l8.333 8.333"/><path d="M551.333 222.667l8.333 -8.333m-8.333 0l8.333 8.333"/>
<path d="M552.333 222.667l8.333 -8.333m-8.333 0l8.333 8.333"/><path d="M553.333 222.667l8.333 -8.333m-8.333 0l8.333 8.333"/><path d="M554.333 222.667l8.333 -8.333m-8.333 0l8.333 8.333"/><path d="M555.333 222.667l8.333 -8.333m-8.333 0l8.333 8.333"/><path d="M556.333 222.667l8.333 -8.333m-8.333 0l8.333 8.333"/><path d="M557.333 222.667l8.333 -8.333m-8.333 0l8.333 8.333"/>
<path d="M558.333 222.667l8.333 -8.333m-8.333 0l8.333 8.333"/><path d="M559.333 222.667l8.333 -8.333m-8.333 0l8.333 8.333"/><path d="M560.333 222.667l8.333 -8.333m-8.333 0l8.333 8.333"/><path d="M561.333 222.667l8.333 -8.333m-8.333 0l8.333 8.333"/><path d="M562.333 222.667l8.333 -8.333m-8.333 0l8.333 8.333"/><path d="M563.333 222.667l8.333 -8.333m-8.333 0l8.333 8.333"/>
<path d="M564.333 222.667l8.333 -8.333m-8.333 0l8.333 8.333"/><path d="M565.333 222.667l8.333 -8.333m-8.333 0l8.333 8.333"/><path d="M566.333 222.667l8.333 -8.333m-8.333 0l8.333 8.333"/><path d="M567.333 222.667l8.333 -8.333m-8.333 0l8.333 8.333"/><path d="M568.333 222.667l8.333 -8.333m-8.333 0l8.333 8.333"/><path d="M569.333 222.667l8.333 -8.333m-8.333 0l8.333 8.333"/>
<path d="M570.333 222.667l8.333 -8.333m-8.333 0l8.333 8.333"/><path d="M571.333 222.667l8.333 -8.333m-8.333 0l8.333 8.333"/><path d="M572.333 222.667l8.333 -8.333m-8.333 0l8.333 8.333"/><path d="M573.333 222.667l8.333 -8.333m-8.333 0l8.333 8.333"/><path d="M574.333 222.667l8.333 -8.333m-8.333 0l8.333 8.333"/><path d="M575.333 222.667l8.333 -8.333m-8.333 0l8.333 8.333"/>
<path d="M576.333 222.667l8.333 -8.333m-8.333 0l8.333 8.333"/><path d="M577.333 222.667l8.333 -8.333m-8.333 0l8.333 8.333"/><path d="M578.333 222.667l8.333 -8.333m-8.333 0l8.333 8.333"/><path d="M579.333 222.667l8.333 -8.333m-8.333 0l8.333 8.333"/><path d="M580.333 222.667l8.333 -8.333m-8.333 0l8.333 8.333"/><path d="M581.333 222.667l8.333 -8.333m-8.333 0l8.333 8.333"/>
<path d="M582.333 222.667l8.333 -8.333m-8.333 0l8.333 8.333"/><path d="M583.333 222.667l8.333 -8.333m-8.333 0l8.333 8.333"/><path d="M584.333 222.667l8.333 -8.333m-8.333 0l8.333 8.333"/><path d="M585.333 222.667l8.333 -8.333m-8.333 0l8.333 8.333"/><path d="M586.333 222.667l8.333 -8.333m-8.333 0l8.333 8.333"/><path d="M587.333 222.667l8.333 -8.333m-8.333 0l8.333 8.333"/>
<path d="M588.333 222.667l8.333 -8.333m-8.333 0l8.333 8.333"/><path d="M589.333 222.667l8.333 -8.333m-8.333 0l8.333 8.333"/><path d="M590.333 222.667l8.333 -8.333m-8.333 0l8.333 8.333"/><path d="M591.333 222.667l8.333 -8.333m-8.333 0l8.333 8.333"/><path d="M592.333 222.667l8.333 -8.333m-8.333 0l8.333 8.333"/><path d="M593.333 222.667l8.333 -8.333m-8.333 0l8.333 8.333"/>
<path d="M594.333 222.667l8.333 -8.333m-8.333 0l8.333 8.333"/><path d="M595.333 222.667l8.333 -8.333m-8.333 0l8.333 8.333"/><path d="M596.333 222.667l8.333 -8.333m-8.333 0l8.333 8.333"/><path d="M597.333 222.667l8.333 -8.333m-8.333 0l8.333 8.333"/><path d="M598.333 222.667l8.333 -8.333m-8.333 0l8.333 8.333"/><path d="M599.333 222.667l8.333 -8.333m-8.333 0l8.333 8.333"/>
<path d="M600.333 222.667l8.333 -8.333m-8.333 0l8.333 8.333"/><path d="M601.333 222.667l8.333 -8.333m-8.333 0l8.333 8.333"/><path d="M602.333 222.667l8.333 -8.333m-8.333 0l8.333 8.333"/><path d="M603.333 222.667l8.333 -8.333m-8.333 0l8.333 8.333"/><path d="M604.333 222.667l8.333 -8.333m-8.333 0l8.333 8.333"/><path d="M605.333 222.667l8.333 -8.333m-8.333 0l8.333 8.333"/>
<path d="M606.333 222.667l8.333 -8.333m-8.333 0l8.333 8.333"/><path d="M607.333 222.667l8.333 -8.333m-8.333 0l8.333 8.333"/><path d="M608.333 222.667l8.333 -8.333m-8.333 0l8.333 8.333"/><path d="M609.333 222.667l8.333 -8.333m-8.333 0l8.333 8.333"/><path d="M610.333 222.667l8.333 -8.333m-8.333 0l8.333 8.333"/><path d="M611.333 222.667l8.333 -8.333m-8.333 0l8.333 8.333"/>
<path d="M612.333 222.667l8.333 -8.333m-8.333 0l8.333 8.333"/><path d="M613.333 222.667l8.333 -8.333m-8.333 0l8.333 8.333"/><path d="M614.333 222.667l8.333 -8.333m-8.333 0l8.333 8.333"/><path d="M615.333 222.667l8.333 -8.333m-8.333 0l8.333 8.333"/><path d="M616.333 222.667l8.333 -8.333m-8.333 0l8.333 8.333"/><path d="M617.333 222.667l8.333 -8.333m-8.333 0l8.333 8.333"/>
<path d="M618.333 222.667l8.333 -8.333m-8.333 0l8.333 8.333"/><path d="M619.333 222.667l8.333 -8.333m-8.333 0l8.333 8.333"/><path d="M620.333 222.667l8.333 -8.333m-8.333 0l8.333 8.333"/><path d="M621.333 222.667l8.333 -8.333m-8.333 0l8.333 8.333"/><path d="M622.333 222.667l8.333 -8.333m-8.333 0l8.333 8.333"/><path d="M623.333 222.667l8.333 -8.333m-8.333 0l8.333 8.333"/>
<path d="M624.333 222.667l8.333 -8.333m-8.333 0l8.333 8.333"/><path d="M625.333 222.667l8.333 -8.333m-8.333 0l8.333 8.333"/><path d="M626.333 222.667l8.333 -8.333m-8.333 0l8.333 8.333"/><path d="M627.333 222.667l8.333 -8.333m-8.333 0l8.333 8.333"/><path d="M628.333 222.667l8.333 -8.333m-8.333 0l8.333 8.333"/><path d="M629.333 222.667l8.333 -8.333m-8.333 0l8.333 8.333"/>
<path d="M630.333 222.667l8.333 -8.333m-8.333 0l8.333 8.333"/><path d="M631.333 222.667l8.333 -8.333m-8.333 0l8.333 8.333"/><path d="M632.333 222.667l8.333 -8.333m-8.333 0l8.333 8.333"/><path d="M633.333 222.667l8.333 -8.333m-8.333 0l8.333 8.333"/><path d="M634.333 222.667l8.333 -8.333m-8.333 0l8.333 8.333"/><path d="M635.333 222.667l8.333 -8.333m-8.333 0l8.333 8.333"/>
<path d="M636.333 222.667l8.333 -8.333m-8.333 0l8.333 8.333"/><path d="M637.333 222.667l8.333 -8.333m-8.333 0l8.333 8.333"/><path d="M638.333 222.667l8.333 -8.333m-8.333 0l8.333 8.333"/><path d="M639.333 222.667l8.333 -8.333m-8.333 0l8.333 8.333"/><path d="M640.333 222.667l8.333 -8.333m-8.333 0l8.333 8.333"/><path d="M641.333 222.667l8.333 -8.333m-8.333 0l8.333 8.333"/>
<path d="M642.333 222.667l8.333 -8.333m-8.333 0l8.333 8.333"/><path d="M643.333 222.667l8.333 -8.333m-8.333 0l8.333 8.333"/><path d="M644.333 222.667l8.333 -8.333m-8.333 0l8.333 8.333"/><path d="M645.333 222.667l8.333 -8.333m-8.333 0l8.333 8.333"/><path d="M646.333 222.667l8.333 -8.333m-8.333 0l8.333 8.333"/><path d="M647.333 222.667l8.333 -8.333m-8.333 0l8.333 8.333"/>
<path d="M648.333 222.667l8.333 -8.333m-8.333 0l8.333 8.333"/><path d="M649.333 222.667l8.333 -8.333m-8.333 0l8.333 8.333"/><path d="M650.333 222.667l8.333 -8.333m-8.333 0l8.333 8.333"/><path d="M651.333 222.667l8.333 -8.333m-8.333 0l8.333 8.333"/><path d="M652.333 222.667l8.333 -8.333m-8.333 0l8.333 8.333"/><path d="M653.333 222.667l8.333 -8.333m-8.333 0l8.333 8.333"/>
<path d="M654.333 222.667l8.333 -8.333m-8.333 0l8.333 8.333"/><path d="M655.333 222.667l8.333 -8.333m-8.333 0l8.333 8.333"/><path d="M656.333 222.667l8.333 -8.333m-8.333 0l8.333 8.333"/><path d="M657.333 222.667l8.333 -8.333m-8.333 0l8.333 8.333"/><path d="M658.333 222.667l8.333 -8.333m-8.333 0l8.333 8.333"/><path d="M659.333 222.667l8.333 -8.333m-8.333 0l8.333 8.333"/>
<path d="M660.333 222.667l8.333 -8.333m-8.333 0l8.333 8.333"/><path d="M661.333 222.667l8.333 -8.333m-8.333 0l8.333 8.333"/><path d="M662.333 222.667l8.333 -8.333m-8.333 0l8.333 8.333"/><path d="M663.333 222.667l8.333 -8.333m-8.333 0l8.333 8.333"/><path d="M664.333 222.667l8.333 -8.333m-8.333 0l8.333 8.333"/><path d="M665.333 222.667l8.333 -8.333m-8.333 0l8.333 8.333"/>
<path d="M666.333 222.667l8.333 -8.333m-8.333 0l8.333 8.333"/><path d="M667.333 222.667l8.333 -8.333m-8.333 0l8.333 8.333"/><path d="M668.333 222.667l8.333 -8.333m-8.333 0l8.333 8.333"/><path d="M669.333 222.667l8.333 -8.333m-8.333 0l8.333 8.333"/><path d="M670.333 222.667l8.333 -8.333m-8.333 0l8.333 8.333"/><path d="M671.333 222.667l8.333 -8.333m-8.333 0l8.333 8.333"/>
<path d="M672.333 222.667l8.333 -8.333m-8.333 0l8.333 8.333"/><path d="M673.333 222.667l8.333 -8.333m-8.333 0l8.333 8.333"/><path d="M674.333 222.667l8.333 -8.333m-8.333 0l8.333 8.333"/><path d="M675.333 222.667l8.333 -8.333m-8.333 0l8.333 8.333"/><path d="M676.333 222.667l8.333 -8.333m-8.333 0l8.333 8.333"/><path d="M677.333 222.667l8.333 -8.333m-8.333 0l8.333 8.333"/>
<path d="M678.333 222.667l8.333 -8.333m-8.333 0l8.333 8.333"/><path d="M679.333 222.667l8.333 -8.333m-8.333 0l8.333 8.333"/><path d="M680.333 222.667l8.333 -8.333m-8.333 0l8.333 8.333"/><path d="M681.333 222.667l8.333 -8.333m-8.333 0l8.333 8.333"/><path d="M682.333 222.667l8.333 -8.333m-8.333 0l8.333 8.333"/><path d="M683.333 222.667l8.333 -8.333m-8.333 0l8.333 8.333"/>
<path d="M684.333 222.667l8.333 -8.333m-8.333 0l8.333 8.333"/><path d="M685.333 222.667l8.333 -8.333m-8.333 0l8.333 8.333"/><path d="M686.333 222.667l8.333 -8.333m-8.333 0l8.333 8.333"/><path d="M687.333 222.667l8.333 -8.333m-8.333 0l8.333 8.333"/><path d="M688.333 222.667l8.333 -8.333m-8.333 0l8.333 8.333"/><path d="M689.333 222.667l8.333 -8.333m-8.333 0l8.333 8.333"/>
<path d="M690.333 222.667l8.333 -8.333m-8.333 0l8.333 8.333"/><path d="M691.333 222.667l8.333 -8.333m-8.333 0l8.333 8.333"/><path d="M692.333 222.667l8.333 -8.333m-8.333 0l8.333 8.333"/><path d="M693.333 222.667l8.333 -8.333m-8.333 0l8.333 8.333"/><path d="M694.333 222.667l8.333 -8.333m-8.333 0l8.333 8.333"/><path d="M695.333 222.667l8.333 -8.333m-8.333 0l8.333 8.333"/>
<path d="M696.333 222.667l8.333 -8.333m-8.333 0l8.333 8.333"/><path d="M697.333 222.667l8.333 -8.333m-8.333 0l8.333 8.333"/><path d="M698.333 222.667l8.333 -8.333m-8.333 0l8.333 8.333"/><path d="M699.333 222.667l8.333 -8.333m-8.333 0l8.333 8.333"/><path d="M700.333 222.667l8.333 -8.333m-8.333 0l8.333 8.333"/><path d="M701.333 222.667l8.333 -8.333m-8.333 0l8.333 8.333"/>
<path d="M702.333 222.667l8.333 -8.333m-8.333 0l8.333 8.333"/><path d="M703.333 222.667l8.333 -8.333m-8.333 0l8.333 8.333"/><path d="M704.333 222.667l8.333 -8.333m-8.333 0l8.333 8.333"/><path d="M705.333 222.667l8.333 -8.333m-8.333 0l8.333 8.333"/><path d="M706.333 222.667l8.333 -8.333m-8.333 0l8.333 8.333"/><path d="M707.333 222.667l8.333 -8.333m-8.333 0l8.333 8.333"/>
<path d="M708.333 222.667l8.333 -8.333m-8.333 0l8.333 8.333"/><path d="M709.333 222.667l8.333 -8.333m-8.333 0l8.333 8.333"/><path d="M710.333 222.667l8.333 -8.333m-8.333 0l8.333 8.333"/><path d="M711.333 222.667l8.333 -8.333m-8.333 0l8.333 8.333"/><path d="M712.333 222.667l8.333 -8.333m-8.333 0l8.333 8.333"/><path d="M713.333 222.667l8.333 -8.333m-8.333 0l8.333 8.333"/>
<path d="M714.333 222.667l8.333 -8.333m-8.333 0l8.333 8.333"/><path d="M715.333 222.667l8.333 -8.333m-8.333 0l8.333 8.333"/><path d="M716.333 222.667l8.333 -8.333m-8.333 0l8.333 8.333"/><path d="M515.333 222.667l8.333 -8.333m-8.333 0l8.333 8.333"/><path d="M522.333 222.667l8.333 -8.333m-8.333 0l8.333 8.333"/><path d="M538.333 222.667l8.333 -8.333m-8.333 0l8.333 8.333"/>
<path d="M554.333 222.667l8.333 -8.333m-8.333 0l8.333 8.333"/><path d="M570.333 222.667l8.333 -8.333m-8.333 0l8.333 8.333"/><path d="M587.333 222.667l8.333 -8.333m-8.333 0l8.333 8.333"/><path d="M603.333 222.667l8.333 -8.333m-8.333 0l8.333 8.333"/><path d="M619.333 222.667l8.333 -8.333m-8.333 0l8.333 8.333"/><path d="M636.333 222.667l8.333 -8.333m-8.333 0l8.333 8.333"/>
<path d="M652.333 222.667l8.333 -8.333m-8.333 0l8.333 8.333"/><path d="M668.333 222.667l8.333 -8.333m-8.333 0l8.333 8.333"/><path d="M685.333 222.667l8.333 -8.333m-8.333 0l8.333 8.333"/><path d="M701.333 222.667l8.333 -8.333m-8.333 0l8.333 8.333"/>
</g>
<path d="M100.00 534.00 L102.58 285.80 L293.33 285.80 L294.60 283.90 L296.25 280.19 L302.60 254.30 L303.40 252.70 L304.40 252.00 L500.33 252.00 L501.58 249.93 L502.83 246.20 L509.67 220.49 L510.33 218.66 L511.00 218.00 L713.40 218.00" fill="none" stroke="#ff0000" stroke-width="1.736" stroke-linejoin="round" stroke-linecap="square" clip-path="url(#axclip)"/>
<path d="M100.5 534.5v5.361M203.5 534.5v5.361M307.5 534.5v5.361M410.5 534.5v5.361M513.5 534.5v5.361M617.5 534.5v5.361M720.5 534.5v5.361M100.5 534.5h-5.361M100.5 442.5h-5.361M100.5 349.5h-5.361M100.5 257.5h-5.361M100.5 164.5h-5.361M100.5 72.5h-5.361" fill="none" stroke="#000" stroke-width="1.111"/>
<rect x="100.5" y="72.5" width="620" height="462" fill="none" stroke="#000" stroke-width="1.111"/>
<text class="t10" x="100.40" y="555.38" text-anchor="middle">0</text>
<text class="t10" x="203.93" y="555.38" text-anchor="middle">20</text>
<text class="t10" x="307.37" y="555.38" text-anchor="middle">40</text>
<text class="t10" x="409.90" y="555.38" text-anchor="middle">60</text>
<text class="t10" x="513.96" y="555.38" text-anchor="middle">80</text>
<text class="t10" x="616.58" y="555.38" text-anchor="middle">100</text>
<text class="t10" x="719.60" y="555.38" text-anchor="middle">120</text>
<text class="t10" x="91.03" y="540.00" text-anchor="end">0.00</text>
<text class="t10" x="90.92" y="447.00" text-anchor="end">0.05</text>
<text class="t10" x="90.14" y="355.00" text-anchor="end">0.10</text>
<text class="t10" x="90.00" y="262.00" text-anchor="end">0.15</text>
<text class="t10" x="91.04" y="170.00" text-anchor="end">0.20</text>
<text class="t10" x="90.91" y="78.00" text-anchor="end">0.25</text>
<text class="t10" x="382.2" y="575.8">Time <tspan dx="-1">(</tspan><tspan font-style="oblique" dx="0.3">s</tspan><tspan dx="0.2">)</tspan></text>
<text class="t10" transform="translate(49.9 304.26) rotate(-90)" text-anchor="middle">Volume Fraction</text>
<text x="286.60 296.14 306.63 319.41 324.68 329.58 340.09 350.63 361.14 367.65 372.92 383.09 393.61 404.14 409.42 421.00 431.67 436.58 445.96 456.92 461.63 471.95 478.46 483.07 493.67 503.49 508.88 514.00" y="63.95" font-size="16.667px">FED Input and Calculation: O<tspan font-size="11.667px" x="527.02" dy="2.73">2</tspan></text>
<rect x="554.5" y="79.5" width="159" height="46" rx="2.8" ry="2.8" fill="#ffffff" fill-opacity="0.8" stroke="#cccccc" stroke-opacity="0.8" stroke-width="1.389"/>
<path d="M558.8 91.5H588.2" fill="none" stroke="#ff0000" stroke-width="1.389"/>
<g class="mk"><path d="M569.333 117.667l8.333 -8.333m-8.333 0l8.333 8.333"/></g>
<text class="t10" x="598.0" y="96.1" word-spacing="0.4">Pathfinder Data</text>
<text class="t10" x="598.3" y="116">FDS Data</text>
</svg>
</body>
</html>
